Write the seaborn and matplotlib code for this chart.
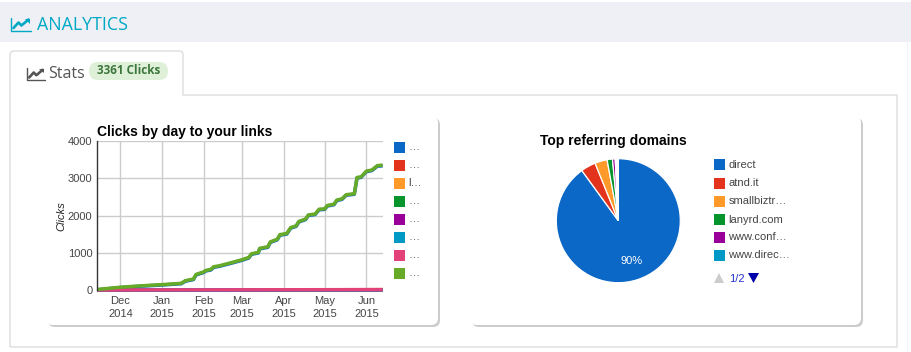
import pandas as pd
import seaborn as sns
import matplotlib.pyplot as plt
from matplotlib.patches import FancyBboxPatch, PathPatch, Polygon, Rectangle
from matplotlib.path import Path

W, H = 911, 352

# data
dates = ["2014-11-14", "2014-12-01", "2014-12-15", "2015-01-01", "2015-01-15", "2015-01-18", "2015-01-24",
         "2015-01-26", "2015-02-01", "2015-02-02", "2015-02-06", "2015-02-08", "2015-02-12", "2015-02-20",
         "2015-03-01", "2015-03-06", "2015-03-08", "2015-03-13", "2015-03-14", "2015-03-20", "2015-03-22",
         "2015-03-27", "2015-03-29", "2015-04-03", "2015-04-06", "2015-04-10", "2015-04-12", "2015-04-17",
         "2015-04-19", "2015-04-24", "2015-04-27", "2015-05-01", "2015-05-03", "2015-05-08", "2015-05-10",
         "2015-05-14", "2015-05-17", "2015-05-23", "2015-05-25", "2015-05-28", "2015-06-01", "2015-06-05",
         "2015-06-09", "2015-06-13"]
green = [15, 75, 110, 145, 180, 250, 295,
         420, 492, 525, 555, 625, 650, 725,
         815, 877, 975, 1012, 1120, 1163, 1297,
         1364, 1490, 1518, 1680, 1727, 1845, 1909,
         2018, 2045, 2173, 2182, 2273, 2309, 2418,
         2455, 2564, 2590, 3027, 3045, 3200, 3227,
         3345, 3361]
blue = [5, 65, 100, 135, 168, 236, 280,
        405, 477, 510, 540, 610, 635, 710,
        800, 862, 960, 997, 1105, 1148, 1282,
        1349, 1475, 1503, 1665, 1712, 1830, 1894,
        2003, 2030, 2158, 2167, 2258, 2294, 2403,
        2440, 2549, 2575, 3012, 3030, 3185, 3212,
        3330, 3340]
low_dates = ["2014-11-14", "2015-01-01", "2015-03-01", "2015-06-13"]
low_values = {
    "red": [0, 2, 4, 9],
    "orange": [0, 2, 3, 8],
    "dark green": [0, 1, 3, 7],
    "purple": [0, 1, 2, 5],
    "teal": [0, 1, 2, 4],
    "pink": [0, 3, 5, 10],
}
line_labels = ["…", "…", "l…", "…", "…", "…", "…", "…"]
line_names = ["blue", "red", "orange", "dark green", "purple", "teal", "pink", "green"]
line_colors = ["#0b68c6", "#e3331c", "#ff9a2a", "#05952c", "#990099", "#0099c6", "#e3417a", "#66aa27"]
month_ticks = ["2014-12-01", "2015-01-01", "2015-02-01", "2015-03-01", "2015-04-01", "2015-05-01", "2015-06-01"]
month_labels = ["Dec\n2014", "Jan\n2015", "Feb\n2015", "Mar\n2015", "Apr\n2015", "May\n2015", "Jun\n2015"]
y_ticks = [0, 1000, 2000, 3000, 4000]

pie_labels = ["direct", "atnd.it", "smallbiztr…", "lanyrd.com", "www.conf…", "www.direc…"]
pie_values = [90.0, 3.9, 3.2, 1.4, 0.7, 0.8]
pie_colors = ["#0b68c6", "#e3331c", "#ff9a2a", "#05952c", "#990099", "#ffffff"]
pie_legend_colors = ["#0b68c6", "#e3331c", "#ff9a2a", "#05952c", "#990099", "#0099c6"]

sns.set_theme(style="white")
plt.rcParams["font.family"] = ["Liberation Sans", "DejaVu Sans"]


def px_axes(fig, left, top, right, bottom, **kw):
    return fig.add_axes([left / W, 1 - bottom / H, (right - left) / W, (bottom - top) / H], **kw)


def chart_icon(ax, x, y, color, s=1.0):
    ax.plot([x, x, x + 20 * s], [y, y + 13.5 * s, y + 13.5 * s], color=color, lw=1.0)
    ax.plot([x + 3 * s, x + 8 * s, x + 11 * s, x + 18 * s], [y + 10.5 * s, y + 5 * s, y + 8 * s, y + 2 * s],
            color=color, lw=1.9)
    ax.add_patch(Polygon([[x + 14 * s, y + s], [x + 19.5 * s, y + s], [x + 19.5 * s, y + 6 * s]], color=color, lw=0))


def card(ax, left, top, right, bottom):
    ax.add_patch(FancyBboxPatch((left + 2, top + 2), right - left, bottom - top, boxstyle="round,pad=0,rounding_size=7",
                                fc="#cccccc", ec="none"))
    ax.add_patch(FancyBboxPatch((left, top), right - left, bottom - top, boxstyle="round,pad=0,rounding_size=7",
                                fc="white", ec="none"))


def swatches(ax, x, ys, labels, colors):
    for y, lab, col in zip(ys, labels, colors):
        ax.add_patch(Rectangle((x, y - 5.5), 11, 11, fc=col, ec="none"))
        ax.text(x + 14.5, y + 0.5, lab, fontsize=8, color="#444444", va="center", ha="left")


fig = plt.figure(figsize=(W / 100, H / 100), dpi=100, facecolor="white")

# page furniture
bg = fig.add_axes([0, 0, 1, 1], zorder=0)
bg.set_xlim(0, W)
bg.set_ylim(H, 0)
bg.axis("off")
bg.add_patch(Rectangle((0, 2), W, 40, fc="#eef0f6", ec="none"))
bg.add_patch(Rectangle((907, 42), 1, 310, fc="#f3f4fa", ec="none"))
chart_icon(bg, 10.5, 17.5, "#00a8c4")
bg.text(37, 25, "ANALYTICS", fontsize=12.8, family="Open Sans", color="#00a8c4", va="center")

frame = Path([(10, 347), (10, 55), (10, 51), (14, 51), (179, 51), (183, 51), (183, 55), (183, 95),
              (897, 95), (897, 347), (10, 347)],
             [Path.MOVETO, Path.LINETO, Path.CURVE3, Path.CURVE3, Path.LINETO, Path.CURVE3, Path.CURVE3,
              Path.LINETO, Path.LINETO, Path.LINETO, Path.LINETO])
bg.add_patch(PathPatch(frame, fc="white", ec="#dddddd", lw=1))
chart_icon(bg, 26.5, 68, "#555555", s=0.9)
bg.text(48, 74, "Stats", fontsize=11.5, family="Open Sans", color="#555555", va="center")
bg.add_patch(FancyBboxPatch((89, 62), 79, 18, boxstyle="round,pad=0,rounding_size=9", fc="#dff0d8", ec="none"))
bg.text(128.5, 70.5, "3361 Clicks", fontsize=8.5, family="Open Sans", weight="bold", color="#3c763d",
        va="center", ha="center")

card(bg, 46, 116, 438, 325)
card(bg, 470, 116, 861, 325)

# line chart
rows = [pd.DataFrame({"date": dates, "clicks": blue, "series": "blue"}),
        pd.DataFrame({"date": dates, "clicks": green, "series": "green"})]
for name, vals in low_values.items():
    rows.append(pd.DataFrame({"date": low_dates, "clicks": vals, "series": name}))
df = pd.concat(rows, ignore_index=True)
df["date"] = pd.to_datetime(df["date"])

ax = px_axes(fig, 96.7, 141.3, 382.7, 290, zorder=1)
ax.patch.set_alpha(0)
sns.lineplot(data=df, x="date", y="clicks", hue="series", hue_order=line_names, palette=line_colors,
             estimator=None, errorbar=None, lw=2.5, legend=False, ax=ax, clip_on=False, solid_capstyle="butt")
ax.set_xlim(pd.Timestamp("2014-11-13 12:00"), pd.Timestamp("2015-06-13"))
ax.set_ylim(0, 4000)
ax.set_xticks(pd.to_datetime(month_ticks))
ax.set_xticklabels(month_labels, linespacing=1.35)
ax.set_yticks(y_ticks)
ax.grid(True, color="#cccccc", lw=1)
ax.set_axisbelow(True)
ax.tick_params(axis="both", length=0, labelsize=8, labelcolor="#444444")
ax.tick_params(axis="x", pad=4.2)
ax.tick_params(axis="y", pad=3)
for side in ["top", "right", "bottom"]:
    ax.spines[side].set_visible(False)
ax.spines["left"].set_color("#333333")
ax.spines["left"].set_linewidth(1)
ax.set_xlabel("")
ax.set_ylabel("Clicks", fontsize=8, style="italic", color="#222222")
ax.yaxis.set_label_coords(-0.105, 0.5)
ax.text(0, 1.015, "Clicks by day to your links", transform=ax.transAxes, fontsize=10, weight="bold",
        color="black", va="bottom", ha="left")
swatches(bg, 394, [147, 165, 183, 201, 219, 237, 255, 273], line_labels, line_colors)

# pie chart
pie_ax = px_axes(fig, 618.3 - 62, 220.7 - 62, 618.3 + 62, 220.7 + 62, zorder=1)
pie_ax.pie(pie_values, colors=pie_colors, startangle=90, counterclock=False, radius=1,
           wedgeprops={"edgecolor": "white", "linewidth": 0.9},
           autopct=lambda p: f"{p:.0f}%" if p > 5 else "", pctdistance=0.69,
           textprops={"color": "white", "fontsize": 8})
pie_ax.set_xlim(-1, 1)
pie_ax.set_ylim(-1, 1)
bg.text(540, 140.5, "Top referring domains", fontsize=10, weight="bold", color="black", va="center", ha="left")
swatches(bg, 714, [164.5, 183, 201, 219.5, 237, 255], pie_labels, pie_legend_colors)
bg.add_patch(Polygon([[714, 283], [724, 283], [719, 273]], fc="#cccccc", ec="none"))
bg.text(729, 278.5, "1/2", fontsize=8, color="#2233cc", va="center", ha="left")
bg.add_patch(Polygon([[748, 273], [759, 273], [753.5, 283]], fc="#0000aa", ec="none"))

fig.savefig("out.png", dpi=100)
